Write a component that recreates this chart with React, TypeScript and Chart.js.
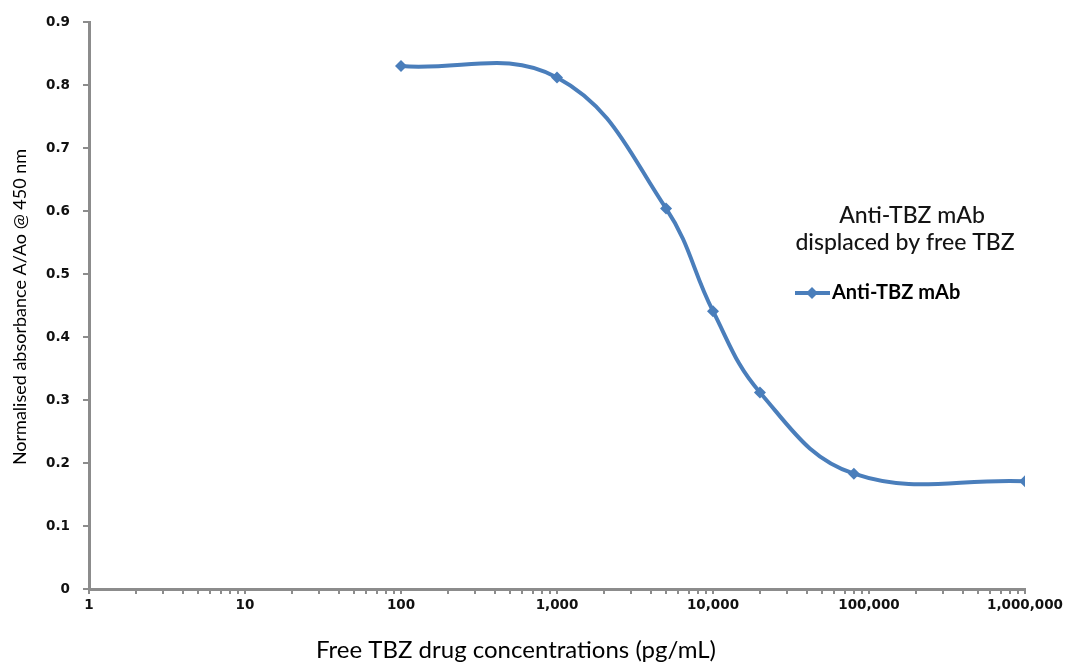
import React, { useEffect, useRef } from "react";
import { Chart, registerables } from "chart.js";

Chart.register(...registerables);

const concentrations = [100, 1000, 5000, 10000, 20000, 80000, 1000000];
const absorbance = [0.83, 0.812, 0.604, 0.441, 0.312, 0.183, 0.171];
const seriesName = "Anti-TBZ mAb";
const legendTitle = ["Anti-TBZ mAb", "displaced by free TBZ"];
const xTitle = "Free TBZ drug concentrations (pg/mL)";
const yTitle = "Normalised absorbance A/Ao @ 450 nm";

const LINE = "#4a7ebb";
const AXIS = "#8c8c8c";

const overlay = {
  id: "overlay",
  afterDraw(chart: any) {
    const ctx = chart.ctx;
    ctx.save();
    ctx.fillStyle = "#000";
    ctx.textAlign = "center";
    ctx.textBaseline = "middle";
    // axis titles
    ctx.font = "24px Lato";
    ctx.fillText(xTitle, 516, 650);
    ctx.save();
    ctx.translate(20, 307);
    ctx.rotate(-Math.PI / 2);
    ctx.font = "18px Lato";
    ctx.fillText(yTitle, 0, 0);
    ctx.restore();
    // legend title
    ctx.textBaseline = "alphabetic";
    ctx.font = "500 23px Lato";
    ctx.fillStyle = "#141414";
    ctx.fillText(legendTitle[0], 912, 223);
    ctx.fillText(legendTitle[1], 905, 250);
    // legend item
    ctx.strokeStyle = LINE;
    ctx.lineWidth = 4;
    ctx.beginPath();
    ctx.moveTo(795, 293);
    ctx.lineTo(830, 293);
    ctx.stroke();
    ctx.fillStyle = LINE;
    ctx.beginPath();
    ctx.moveTo(812, 287);
    ctx.lineTo(818, 293);
    ctx.lineTo(812, 299);
    ctx.lineTo(806, 293);
    ctx.closePath();
    ctx.fill();
    ctx.fillStyle = "#000";
    ctx.textAlign = "left";
    ctx.font = "bold 20px Lato";
    ctx.fillText(seriesName, 832, 299);
    ctx.restore();
  },
};

function buildLogTicks(): { value: number }[] {
  const out: { value: number }[] = [];
  for (let p = 0; p < 6; p++) {
    for (let m = 1; m <= 9; m++) out.push({ value: m * Math.pow(10, p) });
  }
  out.push({ value: 1000000 });
  return out;
}

export default function App() {
  const ref = useRef<HTMLCanvasElement>(null);
  useEffect(() => {
    document.body.style.margin = "0";
    const chart = new Chart(ref.current as HTMLCanvasElement, {
      type: "line",
      data: {
        datasets: [
          {
            label: seriesName,
            data: concentrations.map((x, i) => ({ x, y: absorbance[i] })),
            borderColor: LINE,
            backgroundColor: LINE,
            borderWidth: 4,
            pointStyle: "rectRot",
            pointRadius: 6,
            pointBorderWidth: 0,
            tension: 0.4,
            fill: false,
          },
        ],
      },
      options: {
        animation: false,
        responsive: false,
        layout: { padding: { top: 22, right: 42, left: 0, bottom: 0 } },
        plugins: { legend: { display: false }, tooltip: { enabled: false } },
        scales: {
          x: {
            type: "logarithmic",
            min: 1,
            max: 1000000,
            afterBuildTicks: (scale: any) => {
              scale.ticks = buildLogTicks();
            },
            afterFit: (scale: any) => {
              scale.height = 73;
            },
            border: { color: AXIS, width: 3 },
            grid: { drawOnChartArea: false, color: AXIS, tickLength: 5, lineWidth: 2 },
            ticks: {
              autoSkip: false,
              maxRotation: 0,
              padding: 3,
              color: "#111",
              font: { family: "DejaVu Sans", weight: "bold", size: 13.5 },
              callback: (v: any) => {
                const n = Number(v);
                const lg = Math.log10(n);
                if (Math.abs(lg - Math.round(lg)) < 1e-9) return n.toLocaleString("en-US");
                return "";
              },
            },
          },
          y: {
            min: 0,
            max: 0.9,
            afterFit: (scale: any) => {
              scale.width = 89;
            },
            border: { color: AXIS, width: 3 },
            grid: { drawOnChartArea: false, color: AXIS, tickLength: 6, lineWidth: 2 },
            ticks: {
              stepSize: 0.1,
              padding: 13,
              color: "#111",
              font: { family: "DejaVu Sans", weight: "bold", size: 13.5 },
            },
          },
        },
      },
      plugins: [overlay],
    } as any);
    return () => chart.destroy();
  }, []);
  return (
    <div style={{ width: 1067, height: 662, background: "#fff" }}>
      <canvas ref={ref} width={1067} height={662} />
    </div>
  );
}
